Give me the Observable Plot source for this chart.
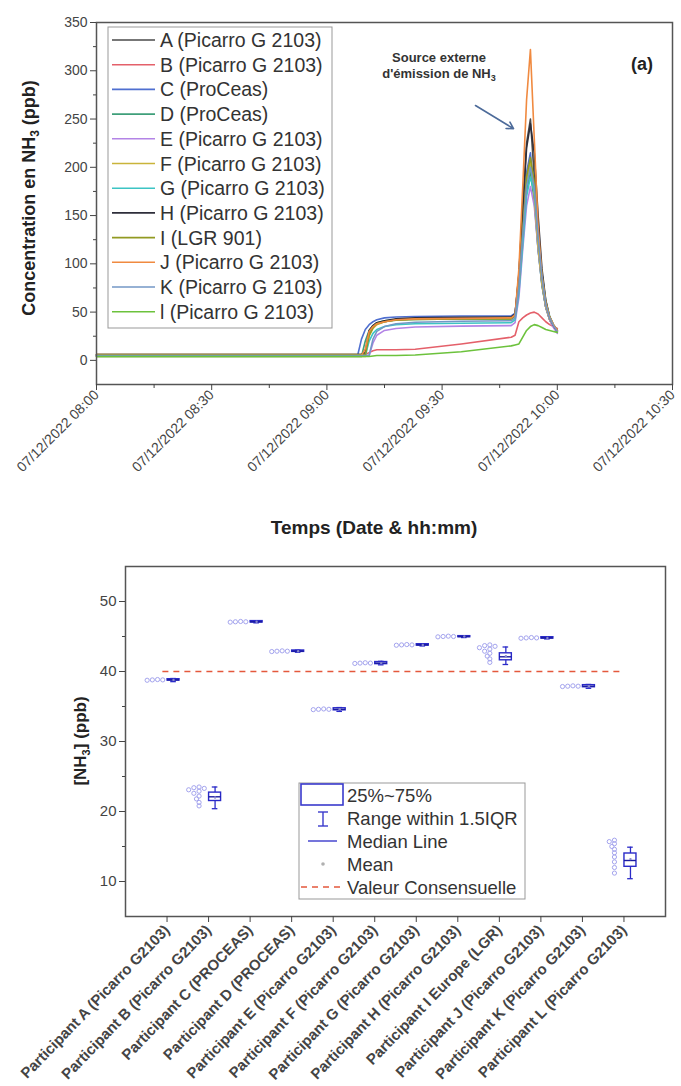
<!DOCTYPE html>
<html><head><meta charset="utf-8">
<script src="https://cdn.jsdelivr.net/npm/d3@7"></script>
<script src="https://cdn.jsdelivr.net/npm/@observablehq/plot@0.6"></script>
<style>
html,body{margin:0;padding:0;background:#fff;}
#root{width:681px;height:1086px;overflow:hidden;}
#root svg{display:block;}
</style></head><body><div id="root"></div>
<script>
const FONT = '"Liberation Sans", Arial, Helvetica, sans-serif';

// ================= TOP CHART DATA =================
const dateLabel = "07/12/2022";
const startUTC = Date.UTC(2022, 11, 7, 8, 0);   // 07/12/2022 08:00
const minutes = [0, 60, 68, 69, 70, 71, 72, 73, 75, 78, 83, 95, 108, 109, 110, 111, 112, 113, 114, 115, 116, 117, 118, 119, 120];
const seriesNames = ["A (Picarro G 2103)", "B (Picarro G 2103)", "C (ProCeas)", "D (ProCeas)", "E (Picarro G 2103)", "F (Picarro G 2103)", "G (Picarro G 2103)", "H (Picarro G 2103)", "I (LGR 901)", "J (Picarro G 2103)", "K (Picarro G 2103)", "l (Picarro G 2103)"];
const seriesColors = ["#4a4a4a", "#e4606a", "#4f6fd0", "#3f9f7a", "#b384e6", "#c9b43a", "#3cc4c4", "#2e2e3a", "#929a22", "#f08a40", "#7397c6", "#6cc23c"];
const sA = [5, 5, 5, 5, 6, 30, 35, 38, 40, 42, 43, 43.5, 44, 47, 90, 160, 225, 250, 190, 125, 80, 55, 42, 35, 29];
const sB = [6, 6, 6, 6, 6, 8, 10, 11, 11, 11, 11.5, 17, 24, 26, 40, 44, 47, 49, 50, 48, 44, 40, 37, 35, 33];
const sC = [5, 5, 5, 22, 32, 37, 40, 42, 44, 45, 45.5, 46, 46, 49, 85, 140, 195, 215, 170, 115, 78, 55, 43, 36, 31];
const sD = [4, 4, 4, 4, 20, 31, 36, 39, 41, 42, 42.5, 43, 43, 46, 75, 125, 175, 195, 165, 115, 78, 55, 42, 35, 30];
const sE = [5, 5, 5, 5, 5, 5, 18, 26, 31, 33, 34.5, 35.5, 36, 39, 65, 115, 160, 180, 160, 115, 80, 55, 42, 34, 28];
const sF = [4, 4, 4, 4, 4, 25, 33, 37, 40, 42, 43, 43.5, 44, 47, 80, 135, 185, 205, 170, 118, 80, 56, 43, 36, 31];
const sG = [5, 5, 5, 5, 5, 20, 28, 32, 35, 37, 38, 38.5, 39, 42, 70, 120, 170, 190, 175, 130, 90, 62, 46, 37, 31];
const sH = [6, 6, 6, 6, 8, 31, 36, 39, 41, 43, 44, 44.5, 45, 48, 88, 155, 220, 245, 215, 150, 95, 62, 45, 36, 30];
const sI = [6, 6, 6, 6, 6, 26, 34, 38, 40, 41.5, 42.5, 43, 43, 46, 78, 135, 190, 210, 185, 130, 88, 60, 45, 37, 31];
const sJ = [5, 5, 5, 5, 12, 30, 35, 38, 40, 42, 43, 43.5, 44, 47, 95, 180, 270, 322, 230, 140, 88, 60, 45, 37, 31];
const sK = [5, 5, 5, 5, 5, 5, 22, 30, 35, 38, 39.5, 40.5, 41, 44, 75, 130, 180, 200, 180, 128, 86, 58, 44, 36, 30];
const sL = [4, 4, 4, 4, 4, 4, 4.5, 5, 5, 5, 5.5, 9, 15, 16, 17, 24, 31, 35, 37, 36, 34, 32, 31, 30, 29];
const seriesValues = [sA, sB, sC, sD, sE, sF, sG, sH, sI, sJ, sK, sL];
const majorTickMinutes = [0, 30, 60, 90, 120, 150];
const minorTickMinutes = [15, 45, 75, 105, 135];
const yTicksTop = [0, 50, 100, 150, 200, 250, 300, 350];
const yMinorTop = [25, 75, 125, 175, 225, 275, 325];
const annotArrow = {fromMin: 98.7, fromV: 264, toMin: 108.6, toV: 240};

// ================= BOTTOM CHART DATA =================
const participants = ["Participant A (Picarro G2103)", "Participant B (Picarro G2103)", "Participant C (PROCEAS)", "Participant D (PROCEAS)", "Participant E (Picarro G2103)", "Participant F (Picarro G2103)", "Participant G (Picarro G2103)", "Participant H (Picarro G2103)", "Participant I Europe (LGR)", "Participant J (Picarro G2103)", "Participant K (Picarro G2103)", "Participant L (Picarro G2103)"];
const medians = [38.8, 22.1, 47.1, 42.9, 34.6, 41.2, 43.8, 45.0, 42.1, 44.8, 37.9, 13.0];
const q1s     = [38.7, 21.5, 47.0, 42.8, 34.45, 41.05, 43.7, 44.9, 41.6, 44.7, 37.75, 12.1];
const q3s     = [38.9, 22.7, 47.2, 43.0, 34.75, 41.35, 43.9, 45.05, 42.6, 44.9, 38.05, 14.0];
const whiskLo = [38.55, 20.4, 46.95, 42.75, 34.3, 40.95, 43.65, 44.85, 41.0, 44.65, 37.6, 10.4];
const whiskHi = [39.0, 23.5, 47.25, 43.05, 34.85, 41.45, 43.95, 45.1, 43.5, 44.95, 38.15, 14.9];
const means   = [38.8, 22.0, 47.1, 42.9, 34.6, 41.2, 43.8, 45.0, 42.2, 44.8, 37.9, 13.2];
const rawPoints = [
  [38.75, 38.8, 38.8, 38.85],
  [23.5, 23.4, 23.3, 23.1, 22.9, 22.6, 22.2, 21.8, 21.3, 20.8],
  [47.05, 47.1, 47.1, 47.15],
  [42.85, 42.9, 42.9, 42.95],
  [34.55, 34.6, 34.6, 34.65],
  [41.15, 41.2, 41.2, 41.25],
  [43.75, 43.8, 43.8, 43.85],
  [44.95, 45.0, 45.0, 45.05],
  [43.8, 43.7, 43.6, 43.4, 43.2, 42.9, 42.6, 42.2, 41.8, 41.3],
  [44.75, 44.8, 44.8, 44.85],
  [37.85, 37.9, 37.9, 37.95],
  [15.9, 15.7, 15.4, 15.0, 14.6, 14.1, 13.5, 12.8, 12.0, 11.2]
];
const consensus = 40;
const yTicksBot = [10, 20, 30, 40, 50];
const yMinorBot = [15, 25, 35, 45];
const legendBot = ["25%~75%", "Range within 1.5IQR", "Median Line", "Mean", "Valeur Consensuelle"];

// ================= TOP CHART =================
const T = m => new Date(startUTC + m * 60000);
const hm = d3.utcFormat("%H:%M");
const longData = seriesNames.flatMap((name, k) => minutes.map((m, j) => ({name, t: T(m), v: seriesValues[k][j]})));

const W = 681;
const topH = 545;
const topChart = Plot.plot({
  width: W, height: topH,
  marginLeft: 96, marginRight: 9, marginTop: 22, marginBottom: 161,
  style: {fontFamily: FONT, fontSize: "14px", color: "#444", background: "#fff", overflow: "visible"},
  x: {type: "utc", domain: [T(0), T(150)], label: null},
  y: {domain: [-25, 350], label: null},
  color: {domain: seriesNames, range: seriesColors},
  marks: [
    Plot.line(longData, {x: "t", y: "v", z: "name", stroke: "name", strokeWidth: 1.6}),
    Plot.arrow([annotArrow], {x1: d => T(d.fromMin), y1: "fromV", x2: d => T(d.toMin), y2: "toV", stroke: "#4d6b9a", strokeWidth: 1.6, headLength: 7}),
    Plot.frame({stroke: "#555", strokeWidth: 1.5}),
    Plot.axisY({ticks: yTicksTop, tickSize: 6, tickPadding: 3, fontSize: 14, label: null}),
    Plot.axisY({ticks: yMinorTop, tickSize: 3, tickFormat: () => "", label: null}),
    Plot.axisX({ticks: majorTickMinutes.map(T), tickFormat: d => dateLabel + " " + hm(d), tickRotate: -45, tickSize: 6, tickPadding: 2, fontSize: 14, label: null}),
    Plot.axisX({ticks: minorTickMinutes.map(T), tickSize: 4, tickFormat: () => "", label: null})
  ]
});

const st = d3.select(topChart);
{
  const t = st.append("text").attr("transform", "translate(35,198) rotate(-90)")
    .attr("text-anchor", "middle").attr("font-family", FONT).attr("font-weight", "bold").attr("font-size", 18).attr("fill", "#222");
  t.append("tspan").text("Concentration en NH");
  t.append("tspan").attr("font-size", 12).attr("dy", 4).text("3");
  t.append("tspan").attr("dy", -4).text(" (ppb)");
}
st.append("text").attr("x", 374).attr("y", 534).attr("text-anchor", "middle")
  .attr("font-family", FONT).attr("font-weight", "bold").attr("font-size", 19).attr("fill", "#222").text("Temps (Date & hh:mm)");
st.append("text").attr("x", 439).attr("y", 62).attr("text-anchor", "middle")
  .attr("font-family", FONT).attr("font-weight", "bold").attr("font-size", 13).attr("fill", "#333").text("Source externe");
{
  const t = st.append("text").attr("x", 439).attr("y", 78).attr("text-anchor", "middle")
    .attr("font-family", FONT).attr("font-weight", "bold").attr("font-size", 13).attr("fill", "#333");
  t.append("tspan").text("d'émission de NH");
  t.append("tspan").attr("font-size", 9).attr("dy", 3).text("3");
}
st.append("text").attr("x", 631).attr("y", 70).attr("text-anchor", "start")
  .attr("font-family", FONT).attr("font-weight", "bold").attr("font-size", 18).attr("fill", "#222").text("(a)");
{
  const g = st.append("g");
  g.append("rect").attr("x", 108).attr("y", 27).attr("width", 224).attr("height", 301)
    .attr("fill", "#fff").attr("stroke", "#999").attr("stroke-width", 1);
  seriesNames.forEach((n, i) => {
    const y = 40 + i * 24.7;
    g.append("line").attr("x1", 112).attr("x2", 155).attr("y1", y).attr("y2", y)
      .attr("stroke", seriesColors[i]).attr("stroke-width", 1.6);
    g.append("text").attr("x", 160).attr("y", y + 7).attr("text-anchor", "start").attr("font-family", FONT)
      .attr("font-size", 19.5).attr("fill", "#333").text(n);
  });
}

// ================= BOTTOM CHART =================
const botH = 541;
const bML = 125, bMR = 16, bMT = 21, bMB = 170;
const xDom = [0, 13], yDom = [5, 55];
const xUnit = (W - bML - bMR) / (xDom[1] - xDom[0]);
const yUnit = (botH - bMT - bMB) / (yDom[1] - yDom[0]);
const BOX_OFF = 6.5 / xUnit, BOX_HALF = 6 / xUnit, CAP_HALF = 2.8 / xUnit, PT_OFF = -9.5 / xUnit;
const R = 2.1;

const boxes = participants.map((p, k) => ({i: k + 1, c: k + 1 + BOX_OFF, q1: q1s[k], q3: q3s[k], med: medians[k], lo: whiskLo[k], hi: whiskHi[k], mean: means[k]}));
const pts = [];
rawPoints.forEach((vals, k) => {
  const placed = [];
  const sorted = vals.slice().sort((a, b) => b - a);
  sorted.forEach(v => {
    const yp = v * yUnit;
    for (let s = 0; s < 40; s++) {
      const off = (s % 2 ? -1 : 1) * Math.ceil(s / 2) * 2.6;
      if (placed.every(q => Math.hypot(q.x - off, q.y - yp) >= 3.4)) { placed.push({x: off, y: yp}); pts.push({x: k + 1 + PT_OFF + off / xUnit, v}); break; }
    }
  });
});

const botChart = Plot.plot({
  width: W, height: botH,
  marginLeft: bML, marginRight: bMR, marginTop: bMT, marginBottom: bMB,
  style: {fontFamily: FONT, fontSize: "15px", color: "#444", background: "#fff", overflow: "visible"},
  x: {domain: xDom, label: null},
  y: {domain: yDom, label: null},
  marks: [
    Plot.ruleY([consensus], {x1: 0.9, x2: 12, stroke: "#e4583c", strokeDasharray: "6,5", strokeWidth: 1.5}),
    Plot.dot(pts, {x: "x", y: "v", r: R, stroke: "#a4a4ee", strokeWidth: 1, fill: "none"}),
    Plot.ruleX(boxes, {x: "c", y1: "lo", y2: "q1", stroke: "#2a2ac8", strokeWidth: 1.3}),
    Plot.ruleX(boxes, {x: "c", y1: "q3", y2: "hi", stroke: "#2a2ac8", strokeWidth: 1.3}),
    Plot.ruleY(boxes, {y: "lo", x1: d => d.c - CAP_HALF, x2: d => d.c + CAP_HALF, stroke: "#2a2ac8", strokeWidth: 1.3}),
    Plot.ruleY(boxes, {y: "hi", x1: d => d.c - CAP_HALF, x2: d => d.c + CAP_HALF, stroke: "#2a2ac8", strokeWidth: 1.3}),
    Plot.rect(boxes, {x1: d => d.c - BOX_HALF, x2: d => d.c + BOX_HALF, y1: "q1", y2: "q3", stroke: "#2a2ac8", fill: "none", strokeWidth: 1.4}),
    Plot.ruleY(boxes, {y: "med", x1: d => d.c - BOX_HALF, x2: d => d.c + BOX_HALF, stroke: "#1a1aa0", strokeWidth: 1.4}),
    Plot.dot(boxes, {x: "c", y: "mean", r: 1.2, fill: "#8888cc", stroke: "none"}),
    Plot.frame({stroke: "#555", strokeWidth: 1.5}),
    Plot.axisY({ticks: yTicksBot, tickSize: 6, tickPadding: 3, fontSize: 15, label: null}),
    Plot.axisY({ticks: yMinorBot, tickSize: 3, tickFormat: () => "", label: null}),
    Plot.axisX({ticks: d3.range(1, 13), tickFormat: i => participants[i - 1], tickRotate: -46, tickSize: 6, tickPadding: 5, fontSize: 15, fontWeight: "bold", label: null})
  ]
});

const sb = d3.select(botChart);
const OY = topH;
{
  const t = sb.append("text").attr("transform", `translate(86,${741 - OY}) rotate(-90)`)
    .attr("text-anchor", "middle").attr("font-family", FONT).attr("font-weight", "bold").attr("font-size", 17).attr("fill", "#222");
  t.append("tspan").text("[NH");
  t.append("tspan").attr("font-size", 11).attr("dy", 4).text("3");
  t.append("tspan").attr("dy", -4).text("] (ppb)");
}
{
  const g = sb.append("g").attr("transform", `translate(0,${-OY})`);
  g.append("rect").attr("x", 299).attr("y", 783).attr("width", 226).attr("height", 116)
    .attr("fill", "#fff").attr("stroke", "#999").attr("stroke-width", 1);
  const rows = [795, 818, 841, 864, 887];
  g.append("rect").attr("x", 301).attr("y", 784).attr("width", 42).attr("height", 21)
    .attr("fill", "none").attr("stroke", "#3a3acc").attr("stroke-width", 1.6);
  g.append("line").attr("x1", 323).attr("x2", 323).attr("y1", 812).attr("y2", 826).attr("stroke", "#3a3acc").attr("stroke-width", 1.4);
  g.append("line").attr("x1", 318).attr("x2", 328).attr("y1", 812).attr("y2", 812).attr("stroke", "#3a3acc").attr("stroke-width", 1.4);
  g.append("line").attr("x1", 318).attr("x2", 328).attr("y1", 826).attr("y2", 826).attr("stroke", "#3a3acc").attr("stroke-width", 1.4);
  g.append("line").attr("x1", 308).attr("x2", 337).attr("y1", 841).attr("y2", 841).attr("stroke", "#3a3acc").attr("stroke-width", 1.4);
  g.append("circle").attr("cx", 323).attr("cy", 864).attr("r", 1.8).attr("fill", "#b0b0b0");
  g.append("line").attr("x1", 301).attr("x2", 345).attr("y1", 887).attr("y2", 887).attr("stroke", "#e4583c").attr("stroke-width", 1.5).attr("stroke-dasharray", "6,5");
  legendBot.forEach((s, i) => {
    g.append("text").attr("x", 347).attr("y", rows[i] + 6.5).attr("text-anchor", "start").attr("font-family", FONT)
      .attr("font-size", 18.5).attr("fill", "#333").text(s);
  });
}

const root = document.getElementById("root");
root.appendChild(topChart);
root.appendChild(botChart);
</script>
</body></html>
